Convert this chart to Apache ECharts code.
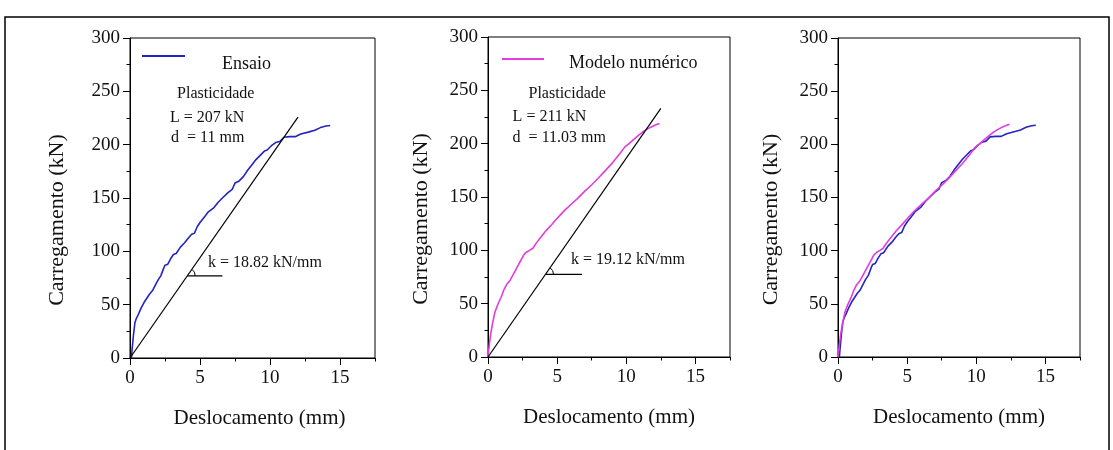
<!DOCTYPE html>
<html><head><meta charset="utf-8">
<script src="https://cdn.jsdelivr.net/npm/echarts@6/dist/echarts.min.js"></script>
<style>html,body{margin:0;padding:0;background:#fff}#c{width:1113px;height:450px}</style>
</head><body><div id="c"></div>
<script>
// ---- data ----
const seriesNames = ['Ensaio', 'Modelo numérico'];
const ensaio = [[0.1,0],[0.15,8],[0.25,22],[0.35,33],[0.45,37],[0.6,41],[0.8,47],[1.0,52],[1.2,56],[1.4,60],[1.6,63],[1.8,68],[2.0,73],[2.2,77],[2.4,84],[2.5,87],[2.7,88],[2.9,93],[3.1,97],[3.3,98],[3.6,104],[3.9,108],[4.2,113],[4.4,116],[4.6,117],[4.8,123],[5.0,127],[5.3,132],[5.6,137],[6.0,141],[6.3,146],[6.6,150],[7.0,155],[7.3,158],[7.5,164],[7.8,166],[8.1,170],[8.4,176],[8.7,181],[9.0,186],[9.3,190],[9.6,194],[9.8,195],[10.1,199],[10.4,202],[10.7,203],[11.0,207],[11.4,207.5],[11.8,207.5],[12.2,210],[12.8,212],[13.2,213.5],[13.6,216],[14.0,217.5],[14.3,218]];
const modelo = [[0,0],[0.1,12],[0.2,22],[0.35,33],[0.5,42],[0.7,49],[0.95,56],[1.15,63],[1.35,68],[1.6,72],[1.85,78],[2.1,84],[2.35,90],[2.6,96],[2.8,98.5],[3.0,100],[3.25,102],[3.5,107],[3.8,112],[4.2,118.5],[4.6,124],[5.0,130],[5.5,137],[6.0,143],[6.5,149],[7.0,155.5],[7.5,161.5],[8.0,168],[8.5,175],[9.0,182],[9.5,190],[9.9,197],[10.2,200],[10.5,203.5],[10.9,208],[11.3,212],[11.7,215],[12.1,217.5],[12.4,219]];
const rigidez1 = [[0,0],[12,225.8]];
const rigidez2 = [[0,0],[12.5,233]];
const base1 = [[4.09,77],[6.6,77]];
const base2 = [[4.16,77.5],[6.8,77.5]];
const notes1 = ['Plasticidade', 'L = 207 kN', 'd  = 11 mm', 'k = 18.82 kN/mm'];
const notes2 = ['Plasticidade', 'L = 211 kN', 'd  = 11.03 mm', 'k = 19.12 kN/mm'];
const noteAt1 = [[3.36,247.5],[2.86,225],[2.93,206],[5.57,89.3]];
const noteAt2 = [[2.93,246.8],[1.78,225],[1.78,205.6],[6.0,91.2]];
const xName = 'Deslocamento (mm)';
const yName = 'Carregamento (kN)';

// ---- styling ----
const FONT = 'Liberation Serif, Times New Roman, serif';
const INK = '#111';
const BLUE = '#2424c0';
const MAG = '#e03ce0';
const grids = [
  {left:130, top:38, width:245, height:320},
  {left:488, top:37, width:242, height:320},
  {left:838, top:38, width:242, height:319}
];
const yGaps = [62, 56, 56];

const chart = echarts.init(document.getElementById('c'), null, {renderer:'canvas'});

const xAxes = [], yAxes = [];
grids.forEach((g, i) => {
  xAxes.push({
    type:'value', gridIndex:i, min:0, max:17.5, interval:5,
    name:xName, nameLocation:'middle', nameGap:50,
    nameTextStyle:{fontFamily:FONT, fontSize:21, color:INK, padding: i===0 ? [0,0,0,14] : [0,0,0,0]},
    axisLine:{show:true, lineStyle:{color:'#000', width:1}},
    axisTick:{show:true, inside:false, length:7, lineStyle:{color:'#000'}},
    axisLabel:{fontFamily:FONT, fontSize:19, color:INK, margin:11, showMaxLabel:false},
    splitLine:{show:false}
  });
  yAxes.push({
    type:'value', gridIndex:i, min:0, max:300, interval:50,
    name:yName, nameLocation:'middle', nameGap:yGaps[i],
    nameTextStyle:{fontFamily:FONT, fontSize:22, color:INK, padding:[0,44,0,0]},
    axisLine:{show:true, lineStyle:{color:'#000', width:1}},
    axisTick:{show:true, inside:false, length:7, lineStyle:{color:'#000'}},
    minorTick:{show:true, splitNumber:2, length:3.5, lineStyle:{color:'#000'}},
    axisLabel:{fontFamily:FONT, fontSize:19, color:INK, margin:10},
    splitLine:{show:false}, minorSplitLine:{show:false}
  });
});
// secondary x axes: half-step minor ticks
grids.forEach((g, i) => {
  xAxes.push({
    type:'value', gridIndex:i, min:0, max:17.5, interval:2.5, position:'bottom', offset:0,
    axisLine:{show:false}, axisLabel:{show:false}, splitLine:{show:false},
    axisTick:{show:true, inside:false, length:3.5, lineStyle:{color:'#000'}}
  });
});

function lineSeries(name, data, color, idx, width) {
  return {type:'line', name:name, data:data, xAxisIndex:idx, yAxisIndex:idx,
    symbol:'none', showSymbol:false, smooth:false, animation:false,
    lineStyle:{color:color, width:width}, itemStyle:{color:color}, z: 3};
}

const option = {
  backgroundColor:'#fff',
  animation:false,
  grid: grids.map(g => Object.assign({show:true, borderColor:'#000', borderWidth:1, backgroundColor:'transparent', containLabel:false}, g)),
  xAxis:xAxes, yAxis:yAxes,
  legend:[
    {data:[seriesNames[0]], left:142, top:55, padding:0, orient:'horizontal', selectedMode:false,
     icon:'path://M0,0 L43,0 L43,2 L0,2 Z M0,17.98 L0.01,17.98 L0.01,18 L0,18 Z',
     itemWidth:43, itemHeight:18, itemGap:0,
     textStyle:{fontFamily:FONT, fontSize:18, lineHeight:18, color:INK, padding:[0,0,0,32]}},
    {data:[seriesNames[1]], left:502, top:54, padding:0, orient:'horizontal', selectedMode:false,
     icon:'path://M0,0 L42,0 L42,2 L0,2 Z M0,9.98 L0.01,9.98 L0.01,10 L0,10 Z',
     itemWidth:42, itemHeight:10, itemGap:0,
     textStyle:{fontFamily:FONT, fontSize:18, lineHeight:18, color:INK, padding:[0,0,0,20]}}
  ],
  series:[
    lineSeries(seriesNames[0], ensaio, BLUE, 0, 1.6),
    lineSeries('k1', rigidez1, '#000', 0, 1.2),
    lineSeries('b1', base1, '#000', 0, 1.2),
    lineSeries(seriesNames[1], modelo, MAG, 1, 1.6),
    lineSeries('k2', rigidez2, '#000', 1, 1.2),
    lineSeries('b2', base2, '#000', 1, 1.2),
    lineSeries(seriesNames[0], ensaio, BLUE, 2, 1.6),
    lineSeries(seriesNames[1], modelo, MAG, 2, 1.6)
  ]
};
chart.setOption(option);

// ---- annotations placed through the axes' own scales ----
function px(i, p) { return chart.convertToPixel({xAxisIndex:i, yAxisIndex:i}, p); }
const graphics = [
  {type:'rect', shape:{x:5, y:17, width:1104, height:445}, style:{fill:'none', stroke:'#000', lineWidth:1.5}, silent:true}
];
[[notes1, noteAt1, rigidez1, base1], [notes2, noteAt2, rigidez2, base2]].forEach((set, i) => {
  const [texts, at, rig, base] = set;
  texts.forEach((t, j) => {
    const p = px(i, at[j]);
    graphics.push({type:'text', x:p[0], y:p[1], silent:true,
      style:{text:t, font:'16px ' + FONT, fill:INK,
        align:'left', verticalAlign:'middle', textAlign:'left', textVerticalAlign:'middle'}});
  });
  const o = px(i, rig[0]), e = px(i, rig[1]);
  const c = px(i, base[0]);
  const ang = Math.atan2(e[1]-o[1], e[0]-o[0]);
  graphics.push({type:'arc', silent:true,
    shape:{cx:c[0], cy:c[1], r:8, startAngle:ang, endAngle:0, clockwise:true},
    style:{stroke:'#000', lineWidth:1, fill:'none'}});
});
chart.setOption({graphic:graphics});
</script>
</body></html>
